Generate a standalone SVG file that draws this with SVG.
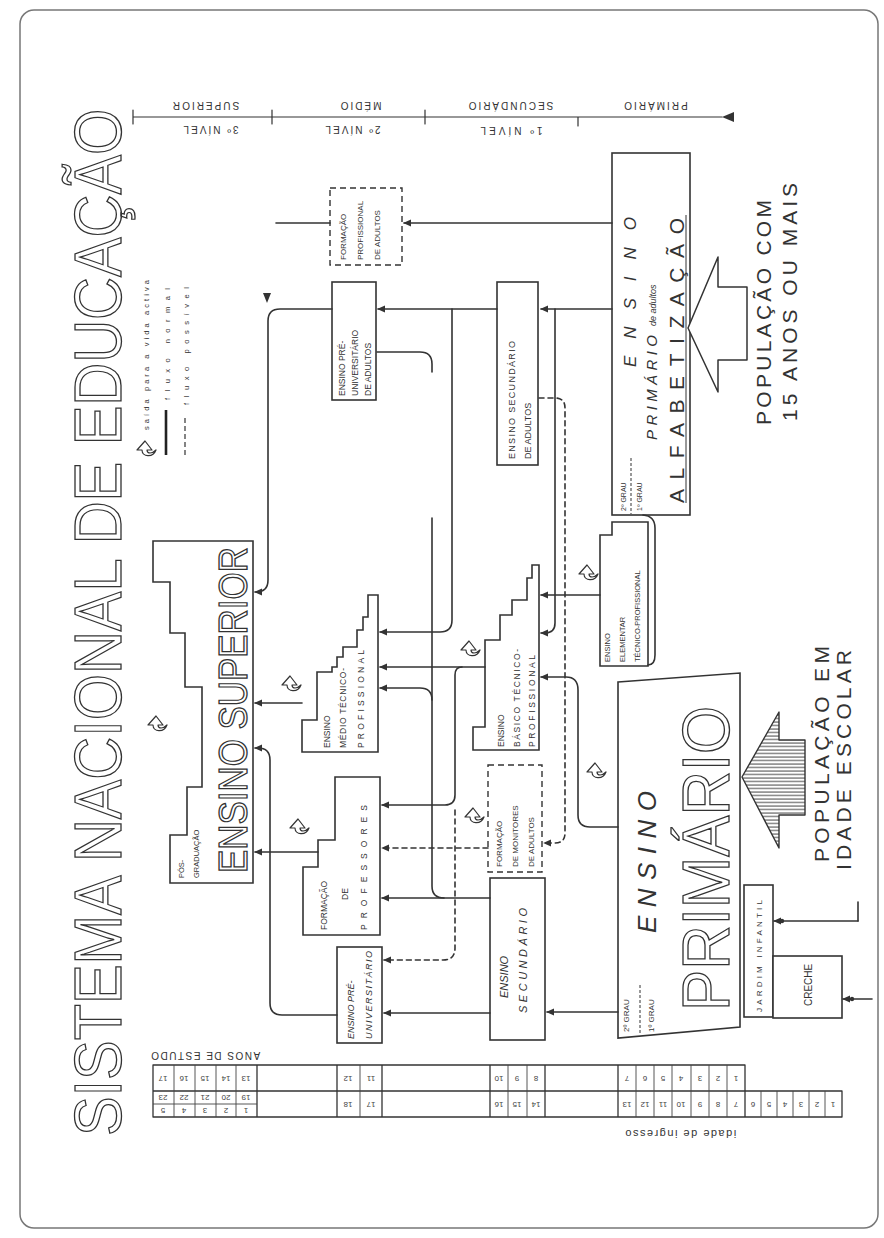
<svg xmlns="http://www.w3.org/2000/svg" width="884" height="1238" viewBox="0 0 884 1238">
<style>
.ln{fill:none;stroke:#333;stroke-width:1.6;stroke-linecap:round;stroke-linejoin:round}
.tn{fill:none;stroke:#444;stroke-width:0.9}
.dsh{stroke-dasharray:5 4}
.box{fill:#fff;stroke:#333;stroke-width:1.6}
.dbox{fill:#fff;stroke:#333;stroke-width:1.4;stroke-dasharray:6 4}
.t{font-family:"Liberation Sans",Arial,sans-serif;fill:#333}
.i{font-style:italic}
.hol{font-family:"Liberation Sans",Arial,sans-serif;fill:#fff;stroke:#333;stroke-width:1.3}
.ar{marker-end:url(#ah)}
.n{font-family:"Liberation Sans",Arial,sans-serif;fill:#444;font-size:8px}
</style>
<defs>
<marker id="ah" viewBox="0 0 10 10" refX="9" refY="5" markerWidth="8" markerHeight="8" markerUnits="userSpaceOnUse" orient="auto"><path d="M0,0.5 L10,5 L0,9.5 Z" fill="#333"/></marker>
<pattern id="hatch" width="6" height="3.5" patternUnits="userSpaceOnUse"><line x1="0" y1="1" x2="6" y2="1" stroke="#444" stroke-width="1"/></pattern>
<g id="ex"><path d="M-2,10 C-10,7 -9,-4 -2,-4 L-2,-9 L7,-1 L-2,6 L-2,1 C-6,1 -6,6 -2,10 Z" fill="#fff" stroke="#333" stroke-width="1.2" stroke-linejoin="round"/></g>
</defs>
<rect width="884" height="1238" fill="#fff"/>
<rect x="20" y="10" width="858" height="1218" rx="14" fill="none" stroke="#777" stroke-width="1.5"/>

<g id="title">
<text class="hol" font-size="66" transform="translate(121,1136) rotate(-90) scale(0.9,1)">SISTEMA NACIONAL DE EDUCAÇÃO</text>
</g>

<g id="legend">
<use href="#ex" transform="translate(146,448) rotate(-90)"/>
<text class="t" font-size="7.5" transform="translate(149,430) rotate(-90)" textLength="150" lengthAdjust="spacing">saída para a vida activa</text>
<line x1="166" y1="455" x2="166" y2="410" stroke="#222" stroke-width="2.6"/>
<text class="t" font-size="7.5" transform="translate(170,400) rotate(-90)" textLength="112" lengthAdjust="spacing">fluxo normal</text>
<line x1="185" y1="455" x2="185" y2="415" stroke="#333" stroke-width="1.2" stroke-dasharray="5 3"/>
<text class="t" font-size="7.5" transform="translate(189,405) rotate(-90)" textLength="118" lengthAdjust="spacing">fluxo possível</text>
</g>

<g id="header">
<path class="ln" style="stroke-width:1.2" d="M133,117 H722 M133,110 V124 M272,110 V124 M425,110 V124 M578,117 V126"/>
<polygon points="722,117 734,112 734,122" fill="#333"/>
<text class="t" font-size="10" text-anchor="middle" dominant-baseline="central" letter-spacing="2" transform="rotate(180 205 105)" x="205" y="105">SUPERIOR</text>
<text class="t" font-size="10" text-anchor="middle" dominant-baseline="central" letter-spacing="2" transform="rotate(180 210 129)" x="210" y="129">3º NÍVEL</text>
<text class="t" font-size="10" text-anchor="middle" dominant-baseline="central" letter-spacing="2" transform="rotate(180 360 105)" x="360" y="105">MÉDIO</text>
<text class="t" font-size="10" text-anchor="middle" dominant-baseline="central" letter-spacing="2" transform="rotate(180 352 129)" x="352" y="129">2º NÍVEL</text>
<text class="t" font-size="10" text-anchor="middle" dominant-baseline="central" letter-spacing="2" transform="rotate(180 510 105)" x="510" y="105">SECUNDÁRIO</text>
<text class="t" font-size="10" text-anchor="middle" dominant-baseline="central" letter-spacing="2" transform="rotate(180 655 105)" x="655" y="105">PRIMÁRIO</text>
<text class="t" font-size="10" text-anchor="middle" dominant-baseline="central" letter-spacing="3" transform="rotate(180 510 130)" x="510" y="130">1º NÍVEL</text>
</g>

<g id="tabela">
<path class="ln" style="stroke-width:1.3" d="M153,1065 H745 M153,1091 H842 M153,1117 H842 M153,1065 V1117 M257,1065 V1117 M337,1065 V1117 M382,1065 V1117 M490,1065 V1117 M545,1065 V1117 M618,1065 V1117 M745,1065 V1117 M842,1091 V1117"/>
<path class="tn" d="M174,1065 V1117 M195,1065 V1117 M216,1065 V1117 M236,1065 V1117 M153,1104 H257 M360,1065 V1117 M508,1065 V1117 M527,1065 V1117 M636,1065 V1117 M654,1065 V1117 M672,1065 V1117 M691,1065 V1117 M709,1065 V1117 M727,1065 V1117 M761,1091 V1117 M777,1091 V1117 M793,1091 V1117 M809,1091 V1117 M825,1091 V1117"/>
<g text-anchor="middle" dominant-baseline="central">
<text class="n" x="163" y="1078" transform="rotate(180 163 1078)">17</text>
<text class="n" x="184" y="1078" transform="rotate(180 184 1078)">16</text>
<text class="n" x="205" y="1078" transform="rotate(180 205 1078)">15</text>
<text class="n" x="226" y="1078" transform="rotate(180 226 1078)">14</text>
<text class="n" x="246" y="1078" transform="rotate(180 246 1078)">13</text>
<text class="n" x="163" y="1097" transform="rotate(180 163 1097)">23</text>
<text class="n" x="184" y="1097" transform="rotate(180 184 1097)">22</text>
<text class="n" x="205" y="1097" transform="rotate(180 205 1097)">21</text>
<text class="n" x="226" y="1097" transform="rotate(180 226 1097)">20</text>
<text class="n" x="246" y="1097" transform="rotate(180 246 1097)">19</text>
<text class="n" x="163" y="1110" transform="rotate(180 163 1110)">5</text>
<text class="n" x="184" y="1110" transform="rotate(180 184 1110)">4</text>
<text class="n" x="205" y="1110" transform="rotate(180 205 1110)">3</text>
<text class="n" x="226" y="1110" transform="rotate(180 226 1110)">2</text>
<text class="n" x="246" y="1110" transform="rotate(180 246 1110)">1</text>
<text class="n" x="348" y="1078" transform="rotate(180 348 1078)">12</text>
<text class="n" x="371" y="1078" transform="rotate(180 371 1078)">11</text>
<text class="n" x="348" y="1104" transform="rotate(180 348 1104)">18</text>
<text class="n" x="371" y="1104" transform="rotate(180 371 1104)">17</text>
<text class="n" x="499" y="1078" transform="rotate(180 499 1078)">10</text>
<text class="n" x="517" y="1078" transform="rotate(180 517 1078)">9</text>
<text class="n" x="536" y="1078" transform="rotate(180 536 1078)">8</text>
<text class="n" x="499" y="1104" transform="rotate(180 499 1104)">16</text>
<text class="n" x="517" y="1104" transform="rotate(180 517 1104)">15</text>
<text class="n" x="536" y="1104" transform="rotate(180 536 1104)">14</text>
<text class="n" x="627" y="1078" transform="rotate(180 627 1078)">7</text>
<text class="n" x="645" y="1078" transform="rotate(180 645 1078)">6</text>
<text class="n" x="663" y="1078" transform="rotate(180 663 1078)">5</text>
<text class="n" x="681" y="1078" transform="rotate(180 681 1078)">4</text>
<text class="n" x="700" y="1078" transform="rotate(180 700 1078)">3</text>
<text class="n" x="718" y="1078" transform="rotate(180 718 1078)">2</text>
<text class="n" x="736" y="1078" transform="rotate(180 736 1078)">1</text>
<text class="n" x="627" y="1104" transform="rotate(180 627 1104)">13</text>
<text class="n" x="645" y="1104" transform="rotate(180 645 1104)">12</text>
<text class="n" x="663" y="1104" transform="rotate(180 663 1104)">11</text>
<text class="n" x="681" y="1104" transform="rotate(180 681 1104)">10</text>
<text class="n" x="700" y="1104" transform="rotate(180 700 1104)">9</text>
<text class="n" x="718" y="1104" transform="rotate(180 718 1104)">8</text>
<text class="n" x="736" y="1104" transform="rotate(180 736 1104)">7</text>
<text class="n" x="753" y="1104" transform="rotate(180 753 1104)">6</text>
<text class="n" x="769" y="1104" transform="rotate(180 769 1104)">5</text>
<text class="n" x="785" y="1104" transform="rotate(180 785 1104)">4</text>
<text class="n" x="801" y="1104" transform="rotate(180 801 1104)">3</text>
<text class="n" x="817" y="1104" transform="rotate(180 817 1104)">2</text>
<text class="n" x="833" y="1104" transform="rotate(180 833 1104)">1</text>
<text class="t" font-size="10" letter-spacing="1.5" x="205" y="1055" transform="rotate(180 205 1055)">ANOS DE ESTUDO</text>
<text class="t" font-size="11" letter-spacing="1.5" x="680" y="1134" transform="rotate(180 680 1134)">idade de ingresso</text>
</g>
</g>

<g id="ensino-superior">
<polygon class="box" points="153,541 253,541 253,883 170,883 170,835 187,835 187,787 202,787 202,687 185,687 185,633 170,633 170,582 153,582"/>
<text class="hol" font-size="40" transform="translate(247,873) rotate(-90) scale(0.873,1)">ENSINO SUPERIOR</text>
<text class="t" font-size="7.5" transform="translate(184,878) rotate(-90)">PÓS-</text>
<text class="t" font-size="7.5" transform="translate(199,878) rotate(-90)">GRADUAÇÃO</text>
</g>

<g id="formacao-adultos">
<rect class="dbox" x="330" y="188" width="72" height="77"/>
<text class="t" font-size="8" transform="translate(346,260) rotate(-90)">FORMAÇÃO</text>
<text class="t" font-size="8" transform="translate(363,260) rotate(-90)">PROFISSIONAL</text>
<text class="t" font-size="8" transform="translate(380,260) rotate(-90)">DE ADULTOS</text>
</g>

<g id="pre-universitario-adultos">
<rect class="box" x="332" y="282" width="44" height="118"/>
<text class="t" font-size="8.5" transform="translate(345,396) rotate(-90)">ENSINO PRÉ-</text>
<text class="t" font-size="8.5" transform="translate(358,396) rotate(-90)">UNIVERSITÁRIO</text>
<text class="t" font-size="8.5" transform="translate(371,396) rotate(-90)">DE ADULTOS</text>
</g>

<g id="secundario-adultos">
<rect class="box" x="497" y="282" width="41" height="183"/>
<text class="t" font-size="9" transform="translate(515,459) rotate(-90)" textLength="118" lengthAdjust="spacing">ENSINO SECUNDÁRIO</text>
<text class="t" font-size="9" transform="translate(531,459) rotate(-90)">DE ADULTOS</text>
</g>

<g id="primario-adultos">
<rect class="box" x="612" y="153" width="78" height="362"/>
<text class="t" font-size="7" transform="translate(626,511) rotate(-90)">2º GRAU</text>
<line x1="631" y1="458" x2="631" y2="514" stroke="#333" stroke-width="1" stroke-dasharray="3 2"/>
<text class="t" font-size="7" transform="translate(642,511) rotate(-90)">1º GRAU</text>
<text class="t i" font-size="17" transform="translate(636,367) rotate(-90)" textLength="150" lengthAdjust="spacing">ENSINO</text>
<text class="t i" font-size="15" transform="translate(657,440) rotate(-90)" textLength="105" lengthAdjust="spacing">PRIMÁRIO</text>
<text class="t i" font-size="9" transform="translate(656,326) rotate(-90)">de adultos</text>
<line x1="686" y1="503" x2="686" y2="215" stroke="#333" stroke-width="1"/>
<text class="t" font-size="21" transform="translate(684,503) rotate(-90)" textLength="285" lengthAdjust="spacing">ALFABETIZAÇÃO</text>
</g>

<g id="populacao-adulta">
<polygon points="688,328 718,257 718,287 747,287 747,360 718,360 718,392" fill="#fff" stroke="#333" stroke-width="1.5" stroke-linejoin="round"/>
<text class="t" font-size="21" transform="translate(771,425) rotate(-90)" textLength="225" lengthAdjust="spacing">POPULAÇÃO COM</text>
<text class="t" font-size="21" transform="translate(797,421) rotate(-90)" textLength="238" lengthAdjust="spacing">15 ANOS OU MAIS</text>
</g>

<g id="ensino-elementar">
<polygon class="box" points="600,535 612,535 612,522 648,522 648,666 600,666"/>
<text class="t" font-size="7.5" transform="translate(610,662) rotate(-90)">ENSINO</text>
<text class="t" font-size="7.5" transform="translate(625,662) rotate(-90)">ELEMENTAR</text>
<text class="t" font-size="7.5" transform="translate(640,662) rotate(-90)">TÉCNICO-PROFISSIONAL</text>
</g>

<g id="ensino-basico-tp">
<polygon class="box" points="539,565 539,750 473,750 473,727 485,727 485,640 500,640 500,615 512,615 512,600 527,600 527,578 532,578 532,565"/>
<text class="t" font-size="8.5" transform="translate(504,747) rotate(-90)">ENSINO</text>
<text class="t" font-size="8.5" transform="translate(520,747) rotate(-90)" textLength="98" lengthAdjust="spacing">BÁSICO TÉCNICO-</text>
<text class="t" font-size="8.5" transform="translate(535,747) rotate(-90)" textLength="92" lengthAdjust="spacing">PROFISSIONAL</text>
</g>

<g id="ensino-medio-tp">
<polygon class="box" points="378,595 378,752 302,752 302,720 317,720 317,672 332,672 332,667 337,667 337,657 343,657 343,647 357,647 357,630 363,630 363,617 368,617 368,595"/>
<text class="t" font-size="8.5" transform="translate(330,748) rotate(-90)">ENSINO</text>
<text class="t" font-size="8.5" transform="translate(346,748) rotate(-90)" textLength="80" lengthAdjust="spacing">MÉDIO TÉCNICO-</text>
<text class="t" font-size="8.5" transform="translate(364,748) rotate(-90)" textLength="98" lengthAdjust="spacing">PROFISSIONAL</text>
</g>

<g id="formacao-professores">
<polygon class="box" points="335,777 380,777 380,935 303,935 303,867 318,867 318,840 335,840"/>
<text class="t" font-size="8.5" transform="translate(327,930) rotate(-90)">FORMAÇÃO</text>
<text class="t" font-size="8.5" transform="translate(348,900) rotate(-90)">DE</text>
<text class="t" font-size="8.5" transform="translate(367,930) rotate(-90)" textLength="125" lengthAdjust="spacing">PROFESSORES</text>
</g>

<g id="formacao-monitores">
<rect class="dbox" x="488" y="765" width="54" height="107"/>
<text class="t" font-size="8" transform="translate(502,867) rotate(-90)">FORMAÇÃO</text>
<text class="t" font-size="8" transform="translate(518,867) rotate(-90)">DE MONITORES</text>
<text class="t" font-size="8" transform="translate(534,867) rotate(-90)">DE ADULTOS</text>
</g>

<g id="ensino-pre-universitario">
<rect class="box" x="337" y="947" width="45" height="96"/>
<text class="t i" font-size="9" transform="translate(354,1039) rotate(-90)">ENSINO PRÉ-</text>
<text class="t i" font-size="9" transform="translate(372,1039) rotate(-90)" textLength="88" lengthAdjust="spacing">UNIVERSITÁRIO</text>
</g>

<g id="ensino-secundario">
<rect class="box" x="490" y="878" width="55" height="162"/>
<text class="t i" font-size="11" transform="translate(508,998) rotate(-90)">ENSINO</text>
<text class="t i" font-size="11" transform="translate(527,1013) rotate(-90)" textLength="105" lengthAdjust="spacing">SECUNDÁRIO</text>
</g>

<g id="ensino-primario">
<polygon class="box" points="618,682 740,673 740,1027 618,1038"/>
<text class="t" font-size="8" transform="translate(629,1032) rotate(-90)">2º GRAU</text>
<line x1="640" y1="985" x2="640" y2="1034" stroke="#333" stroke-width="1" stroke-dasharray="3 2"/>
<text class="t" font-size="8" transform="translate(654,1032) rotate(-90)">1º GRAU</text>
<text class="t i" font-size="26" transform="translate(656,933) rotate(-90)" textLength="142" lengthAdjust="spacing">ENSINO</text>
<text class="hol" font-size="66" transform="translate(729,1011) rotate(-90) scale(0.935,1)">PRIMÁRIO</text>
</g>

<g id="populacao-escolar">
<polygon points="742,777 779,712 779,740 805,740 805,815 779,815 779,848" fill="url(#hatch)" stroke="#333" stroke-width="1.4" stroke-linejoin="round"/>
<text class="t" font-size="21" transform="translate(829,862) rotate(-90)" textLength="216" lengthAdjust="spacing">POPULAÇÃO EM</text>
<text class="t" font-size="21" transform="translate(851,870) rotate(-90)" textLength="220" lengthAdjust="spacing">IDADE ESCOLAR</text>
</g>

<g id="jardim-infantil">
<rect class="box" x="744" y="885" width="29" height="132"/>
<text class="t" font-size="8" transform="translate(762,1012) rotate(-90)" textLength="112" lengthAdjust="spacing">JARDIM INFANTIL</text>
</g>

<g id="creche">
<rect class="box" x="773" y="956" width="69" height="62"/>
<text class="t" font-size="10" transform="translate(812,1006) rotate(-90)">CRECHE</text>
</g>

<g id="saidas">
<use href="#ex" transform="translate(157,723) rotate(-90)"/>
<use href="#ex" transform="translate(291,683) rotate(-90)"/>
<use href="#ex" transform="translate(299,826) rotate(-90)"/>
<use href="#ex" transform="translate(470,648) rotate(-90)"/>
<use href="#ex" transform="translate(474,815) rotate(-90)"/>
<use href="#ex" transform="translate(588,572) rotate(-90)"/>
<use href="#ex" transform="translate(596,770) rotate(-90)"/>
</g>

<g id="connectors">
<path class="ln ar" d="M612,309 L541,309"/>
<path class="ln ar" d="M497,309 L378,309"/>
<path class="ln ar" d="M452,309 L452,620 Q452,632 440,632 L380,632"/>
<path class="ln ar" d="M555,309 L555,623 Q555,633 545,633 L541,633"/>
<path class="ln ar" d="M600,595 L541,595"/>
<path class="ln ar" d="M332,309 L280,309 Q268,309 268,321 L268,580 Q268,592 256,592 L255,592"/>
<path class="ln ar" d="M612,223 L404,223"/>
<path class="ln" d="M330,223 L276,223"/>
<polygon points="263,293 271,293 267,303" fill="#333"/>
<path class="ln ar" d="M302,703 L255,703"/>
<path class="ln ar" d="M318,852 L255,852"/>
<path class="ln ar" d="M337,1015 L282,1015 Q270,1015 270,1003 L270,760 Q270,748 258,748 L255,748"/>
<path class="ln ar" d="M618,1012 L547,1012"/>
<path class="ln ar" d="M490,1013 L384,1013"/>
<path class="ln ar" d="M490,898 L382,898"/>
<path class="ln" d="M444,898 Q432,898 432,886 L432,518"/>
<path class="ln ar" d="M432,700 Q432,688 420,688 L380,688"/>
<path class="ln" d="M377,352 L420,352 Q432,352 432,364 L432,372"/>
<path class="ln ar" d="M485,667 L380,667"/>
<path class="ln ar" d="M462,667 Q455,667 455,675 L455,795 Q455,805 445,805 L382,805"/>
<path class="ln dsh ar" d="M455,810 L455,948 Q455,960 443,960 L384,960"/>
<path class="ln dsh ar" d="M488,848 L382,848"/>
<path class="ln ar" d="M618,827 L590,827 Q578,827 578,815 L578,690 Q578,677 566,677 L541,677"/>
<path class="ln dsh ar" d="M539,398 L555,398 Q565,398 565,408 L565,833 Q565,843 555,843 L544,843"/>
<path class="ln" d="M643,515 Q655,516 655,528 L655,655 Q655,665 648,665"/>
<path class="ln ar" d="M872,999 L843,999"/>
<circle cx="852" cy="999" r="2.2" fill="#333"/>
<path class="ln ar" d="M858,921 L774,921"/>
<circle cx="782" cy="921" r="2.2" fill="#333"/>
<path class="ln" d="M858,902 L858,921"/>
</g>
</svg>
